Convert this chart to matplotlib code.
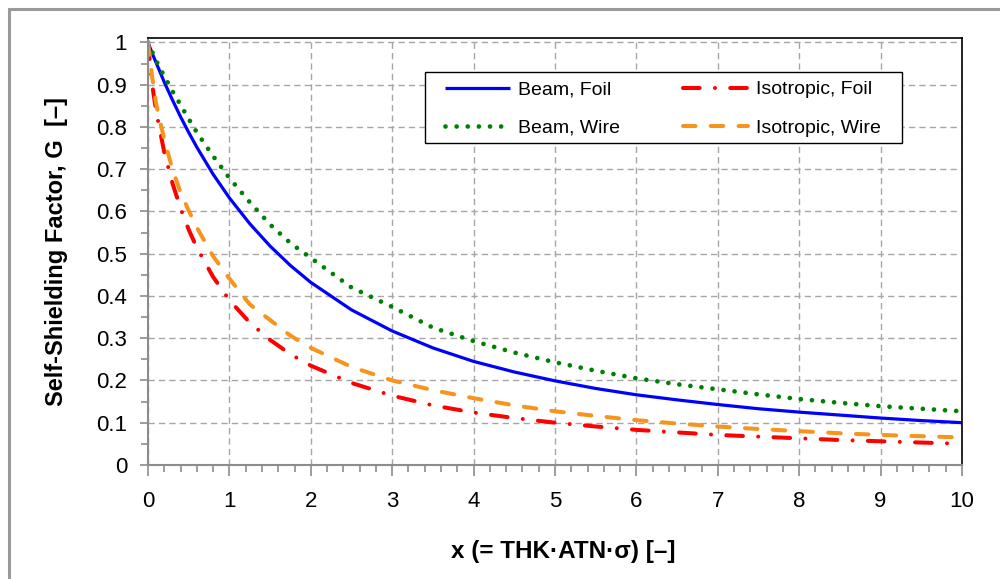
import matplotlib
matplotlib.use('Agg')
import matplotlib.pyplot as plt
from matplotlib.patches import Rectangle
from matplotlib.ticker import MultipleLocator, FuncFormatter

plt.rcParams['font.family'] = ['Liberation Sans', 'DejaVu Sans']
plt.rcParams['lines.scale_dashes'] = False

# values
x = [0, 0.05, 0.1, 0.2, 0.3, 0.4, 0.5, 0.6, 0.8, 1.0, 1.25, 1.5, 1.75, 2.0,
     2.5, 3.0, 3.5, 4.0, 4.5, 5.0, 5.5, 6.0, 6.5, 7.0, 7.5, 8.0, 8.5, 9.0,
     9.5, 10.0]

beam_foil = [1.0, 0.975, 0.952, 0.906, 0.864, 0.824, 0.787, 0.752, 0.688,
             0.632, 0.571, 0.518, 0.472, 0.432, 0.367, 0.317, 0.277, 0.245,
             0.220, 0.199, 0.181, 0.166, 0.154, 0.143, 0.133, 0.125, 0.118,
             0.111, 0.105, 0.100]

beam_wire = [1.0, 0.978, 0.957, 0.920, 0.885, 0.852, 0.819, 0.787, 0.731,
             0.679, 0.622, 0.569, 0.525, 0.490, 0.420, 0.374, 0.325, 0.293,
             0.266, 0.243, 0.223, 0.205, 0.191, 0.179, 0.167, 0.156, 0.147,
             0.139, 0.133, 0.127]

iso_foil = [1.0, 0.902, 0.837, 0.740, 0.667, 0.607, 0.557, 0.514, 0.445,
            0.390, 0.337, 0.296, 0.262, 0.235, 0.194, 0.164, 0.141, 0.124,
            0.111, 0.100, 0.091, 0.083, 0.077, 0.071, 0.067, 0.063, 0.059,
            0.056, 0.053, 0.050]

iso_wire = [1.0, 0.920, 0.855, 0.770, 0.700, 0.645, 0.602, 0.562, 0.494,
            0.441, 0.380, 0.343, 0.306, 0.277, 0.232, 0.200, 0.177, 0.158,
            0.141, 0.127, 0.116, 0.106, 0.098, 0.091, 0.085, 0.080, 0.075,
            0.071, 0.068, 0.065]

fig = plt.figure(figsize=(10, 5.79), dpi=100)
ax = fig.add_axes([0.148, 0.197, 0.814, 0.737])

# gray frame of the chart (right/bottom edges fall outside the picture)
fig.patches.append(Rectangle((0.009, -0.1), 1.2, 1.1 - 0.0155, transform=fig.transFigure,
                             fill=False, edgecolor='#9a9a9a', linewidth=2.2))

ax.plot(x, beam_foil, color='#0000ff', lw=2.3, label='Beam, Foil', solid_capstyle='butt')
ax.plot(x, beam_wire, color='#008000', lw=3.4, linestyle=(0, (0.01, 8)),
        dash_capstyle='round', label='Beam, Wire')
ax.plot(x, iso_foil, color='#ff0000', lw=2.9, linestyle=(0, (12, 11, 0.01, 11)),
        dash_capstyle='round', label='Isotropic, Foil')
ax.plot(x, iso_wire, color='#f7941d', lw=2.9, linestyle=(0, (9, 11)),
        dash_capstyle='round', label='Isotropic, Wire')

ax.set_xlim(0, 10)
ax.set_ylim(0, 1.01)
ax.xaxis.set_major_locator(MultipleLocator(1))
ax.xaxis.set_minor_locator(MultipleLocator(0.2))
ax.yaxis.set_major_locator(MultipleLocator(0.1))
ax.yaxis.set_minor_locator(MultipleLocator(0.05))
ax.yaxis.set_major_formatter(FuncFormatter(lambda v, p: '%g' % round(v, 2)))

ax.grid(True, which='major', color='#a6a6a6', linestyle=(0, (4.5, 3)), linewidth=1.0)
ax.set_axisbelow(True)

for s in ['left', 'bottom']:
    ax.spines[s].set_color('#8c8c8c')
    ax.spines[s].set_linewidth(1.5)
for s in ['top', 'right']:
    ax.spines[s].set_color('#000000')
    ax.spines[s].set_linewidth(1.2)

ax.tick_params(which='major', direction='out', color='#8c8c8c', width=1.2,
               labelsize=16, labelcolor='black')
ax.tick_params(axis='x', which='major', length=8, pad=11)
ax.tick_params(axis='y', which='major', length=6, pad=9)
ax.tick_params(which='minor', direction='out', color='#8c8c8c', width=1.2, length=5)

ax.set_xlabel('x (= THK\u00b7ATN\u00b7\u03c3) [\u2013]', fontsize=17.5, fontweight='bold', labelpad=16)
ax.xaxis.set_label_coords(0.51, -0.175)
ax.set_ylabel('Self-Shielding Factor, G  [\u2013]', fontsize=17, fontweight='bold', labelpad=20)

# legend box drawn separately so the inner padding matches the original
ax.add_patch(Rectangle((0.3403, 0.754), 0.586, 0.166, transform=ax.transAxes,
                       facecolor='white', edgecolor='black', linewidth=1.0, zorder=4))
leg = ax.legend(ncol=2, loc='upper left', bbox_to_anchor=(0.3649, 0.900),
                fontsize=14, frameon=False, handlelength=3.34, columnspacing=3.24,
                handletextpad=0.41, borderpad=0, labelspacing=1.06, borderaxespad=0)
leg.set_zorder(5)

fig.savefig('out.png', dpi=100)
